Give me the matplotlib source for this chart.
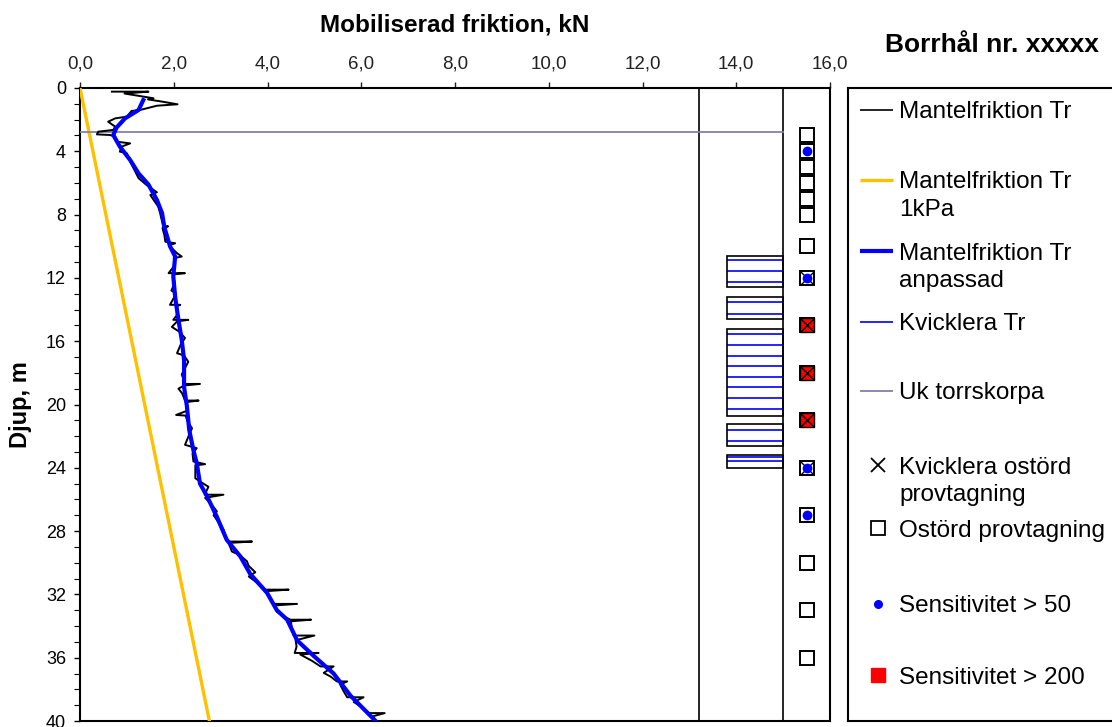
import matplotlib.pyplot as plt
import numpy as np
from matplotlib.patches import Rectangle

plt.rcParams['font.family'] = ['Liberation Sans', 'DejaVu Sans']

# Mantelfriktion Tr (uppmätt), kN mot djup m
fr_tr = [0.68, 1.46, 0.95, 1.57, 1.45, 1.75, 2.08, 1.64, 1.28, 1.10, 1.00, 0.75, 0.60, 0.75, 0.71,
         0.39, 0.36, 0.64, 0.75, 0.78, 1.07, 0.89, 0.85, 1.00, 1.07, 1.18, 1.25, 1.42, 1.64, 1.50,
         1.57, 1.67, 1.71, 1.74, 1.78, 1.88, 1.76, 1.80, 1.82, 2.03, 1.90, 2.07, 2.17, 2.00, 2.02,
         1.89, 2.24, 1.98, 2.02, 1.95, 2.05, 1.92, 2.14, 2.05, 2.08, 1.99, 2.31, 2.07, 1.96, 2.12,
         2.24, 2.15, 2.07, 2.22, 2.31, 2.17, 2.22, 2.24, 2.56, 2.22, 2.10, 2.18, 2.24, 2.53, 2.26,
         2.28, 2.05, 2.25, 2.30, 2.39, 2.33, 2.24, 2.49, 2.40, 2.42, 2.67, 2.46, 2.46, 2.58, 2.74,
         2.66, 3.06, 2.67, 2.80, 2.92, 2.85, 2.97, 3.06, 3.10, 3.17, 3.67, 3.17, 3.24, 3.40, 3.56,
         3.60, 3.74, 3.60, 3.75, 3.92, 4.45, 3.95, 4.05, 4.13, 4.63, 4.15, 4.20, 4.35, 4.49, 4.93,
         4.50, 4.52, 4.56, 5.00, 4.60, 4.62, 4.58, 5.09, 4.70, 4.95, 5.13, 5.41, 5.20, 5.35, 5.48,
         5.70, 5.55, 5.62, 5.70, 6.05, 5.84, 6.00, 6.16, 6.50, 6.25, 6.37]
djup_tr = [0.23, 0.23, 0.35, 0.65, 0.72, 0.86, 1.03, 1.12, 1.39, 1.45, 1.81, 1.92, 2.13, 2.44, 2.65,
           2.76, 2.93, 2.97, 3.07, 3.39, 3.50, 3.70, 4.02, 4.13, 4.65, 5.29, 5.70, 6.13, 6.59, 6.76,
           7.07, 7.50, 7.92, 8.30, 8.76, 8.74, 8.85, 9.30, 9.71, 9.81, 9.95, 10.44, 10.65, 10.75, 11.2,
           11.7, 11.7, 11.78, 12.3, 12.8, 13.0, 13.7, 13.7, 13.8, 14.3, 14.65, 14.65, 14.75, 15.1, 15.4,
           15.8, 16.2, 16.76, 16.9, 17.3, 18.1, 18.5, 18.7, 18.7, 18.8, 19.0, 19.3, 19.75, 19.75, 19.85,
           20.4, 20.66, 20.7, 21.1, 21.5, 21.9, 22.55, 22.76, 23.1, 23.6, 23.77, 23.85, 24.66, 24.9, 25.2,
           25.7, 25.7, 25.9, 26.3, 26.75, 27.0, 27.5, 27.9, 28.3, 28.66, 28.66, 28.75, 29.29, 29.5, 29.9,
           30.2, 30.6, 30.87, 31.2, 31.7, 31.7, 31.8, 32.2, 32.6, 32.6, 32.7, 33.1, 33.4, 33.6, 33.6,
           33.7, 34.2, 34.6, 34.6, 34.9, 35.3, 35.7, 35.7, 35.8, 36.2, 36.55, 36.55, 36.96, 37.2, 37.5,
           37.5, 37.7, 38.1, 38.5, 38.5, 38.8, 39.1, 39.5, 39.5, 39.7, 40.3]

# Mantelfriktion Tr anpassad
fr_anp = [1.35, 1.25, 0.96, 0.78, 0.71, 0.85, 1.07, 1.25, 1.46, 1.64, 1.75, 1.80, 1.92, 2.03, 1.99,
          2.03, 2.10, 2.17, 2.22, 2.22, 2.28, 2.33, 2.42, 2.49, 2.56, 2.71, 2.92, 3.13, 3.42, 3.63,
          3.99, 4.20, 4.42, 4.63, 4.99, 5.41, 5.77, 6.34]
djup_anp = [0.76, 1.39, 1.92, 2.5, 2.97, 3.7, 4.55, 5.4, 6.1, 7.07, 7.9, 8.8, 10.0, 10.65, 11.9,
            13.2, 14.65, 15.9, 17.2, 18.9, 20.1, 21.6, 22.9, 23.7, 25.0, 25.8, 27.1, 28.55, 29.6, 30.7,
            31.9, 33.0, 33.6, 34.9, 35.9, 37.0, 38.4, 40.1]

# Mantelfriktion Tr 1kPa
fr_1kpa = [0.0, 2.76]
djup_1kpa = [0.0, 40.0]

# Uk torrskorpa
uk_torrskorpa = 2.8

# Kvicklera Tr
kvick_fran = [10.6, 13.2, 15.2, 21.25, 23.2]
kvick_till = [12.6, 14.6, 20.7, 22.6, 24.0]
kvick_linjer = [10.87, 11.56, 12.28, 13.55, 14.3, 15.56, 16.27, 16.93, 17.56, 18.24, 18.9,
                19.6, 20.26, 21.6, 22.3, 23.34, 23.59]

# provtagning
prov_djup = [3, 4, 5, 6, 7, 8, 10, 12, 15, 18, 21, 24, 27, 30, 33, 36]
kvick_ostord = [12, 15, 18, 21, 24]
sens_50 = [4, 12, 24, 27]
sens_200 = [15, 18, 21]

fig = plt.figure(figsize=(11.12, 7.27), dpi=100)
ax = fig.add_axes([80 / 1112, 1 - 721 / 727, 750 / 1112, 633 / 727])

ax.plot(fr_1kpa, djup_1kpa, color='#ffc000', lw=2.4, zorder=3)
ax.plot(fr_tr, djup_tr, color='black', lw=1.4, zorder=4)
ax.plot(fr_anp, djup_anp, color='#0000ff', lw=3, zorder=5)
ax.plot([0, 15], [uk_torrskorpa, uk_torrskorpa], color='#8080b0', lw=1.3, zorder=3)

ax.axvline(13.2, color='black', lw=1.2)
ax.axvline(15.0, color='black', lw=1.2)

for a, b in zip(kvick_fran, kvick_till):
    ax.add_patch(Rectangle((13.8, a), 1.2, b - a, fill=False, ec='black', lw=1.2, zorder=3))
ax.hlines(kvick_linjer, 13.8, 15.0, color='#0000ff', lw=1.2, zorder=2)

px = 15.5
ax.plot([px] * len(prov_djup), prov_djup, 's', ms=10.5, mfc='white', mec='black', mew=1.4,
        ls='none', zorder=6)
ax.plot([px] * len(sens_200), sens_200, 's', ms=10.5, mfc='#ff0000', mec='black', mew=1.0,
        ls='none', zorder=7)
ax.plot([px] * len(kvick_ostord), kvick_ostord, 'x', ms=10, mec='black', mew=1.0,
        ls='none', zorder=8)
ax.plot([px] * len(sens_50), sens_50, 'o', ms=6, mfc='#0000ff', mec='#0000ff',
        ls='none', zorder=9)

ax.set_xlim(0, 16)
ax.set_ylim(40, 0)
ax.xaxis.tick_top()
ax.set_xticks(np.arange(0, 17, 2))
ax.set_xticklabels([f"{v:.1f}".replace('.', ',') for v in np.arange(0, 17, 2)])
ax.set_yticks(np.arange(0, 41, 4))
ax.set_yticks(np.arange(0, 41, 1), minor=True)
ax.tick_params(axis='x', which='both', direction='out', length=4, width=1, pad=7,
               labelsize=13.5, colors='#222222')
ax.tick_params(axis='y', which='major', direction='out', length=4, width=1, pad=6,
               labelsize=13)
ax.tick_params(axis='y', which='minor', direction='out', length=4, width=0.8)
for s in ax.spines.values():
    s.set_linewidth(1.5)

fig.text(455 / 1112, 1 - 25 / 727, 'Mobiliserad friktion, kN', ha='center', va='center',
         fontsize=17.5, fontweight='bold')
fig.text(992 / 1112, 1 - 45 / 727, 'Borrhål nr. xxxxx', ha='center', va='center',
         fontsize=19, fontweight='bold')
fig.text(20 / 1112, 1 - 405 / 727, 'Djup, m', ha='center', va='center', rotation=90,
         fontsize=17, fontweight='bold')

# teckenförklaring, i pixelkoordinater
lg = fig.add_axes([848 / 1112, 1 - 721 / 727, 300 / 1112, 633 / 727])
lg.set_xlim(848, 1148)
lg.set_ylim(721, 88)
lg.set_xticks([])
lg.set_yticks([])
for s in lg.spines.values():
    s.set_linewidth(1.5)

poster = [
    ('line', 110, dict(color='black', lw=1.2), 'Mantelfriktion Tr'),
    ('line', 180, dict(color='#ffc000', lw=2.4), 'Mantelfriktion Tr\n1kPa'),
    ('line', 251, dict(color='#0000ff', lw=3), 'Mantelfriktion Tr\nanpassad'),
    ('line', 322, dict(color='#0000ff', lw=1.2), 'Kvicklera Tr'),
    ('line', 391, dict(color='#8080b0', lw=1.3), 'Uk torrskorpa'),
    ('mark', 465, dict(marker='x', ms=10, mec='black', mew=1.3), 'Kvicklera ostörd\nprovtagning'),
    ('mark', 528, dict(marker='s', ms=10, mfc='white', mec='black', mew=1.3), 'Ostörd provtagning'),
    ('mark', 604, dict(marker='o', ms=5.5, mfc='#0000ff', mec='#0000ff'), 'Sensitivitet > 50'),
    ('mark', 675, dict(marker='s', ms=10.5, mfc='#ff0000', mec='#ff0000'), 'Sensitivitet > 200'),
]
for typ, y, stil, txt in poster:
    if typ == 'line':
        lg.plot([860, 893], [y, y], solid_capstyle='butt', **stil)
    else:
        lg.plot([878], [y], ls='none', **stil)
    for i, rad in enumerate(txt.split('\n')):
        lg.text(899, y + 27 * i, rad, ha='left', va='center_baseline', fontsize=17.5)

fig.savefig('out.png', dpi=100)
